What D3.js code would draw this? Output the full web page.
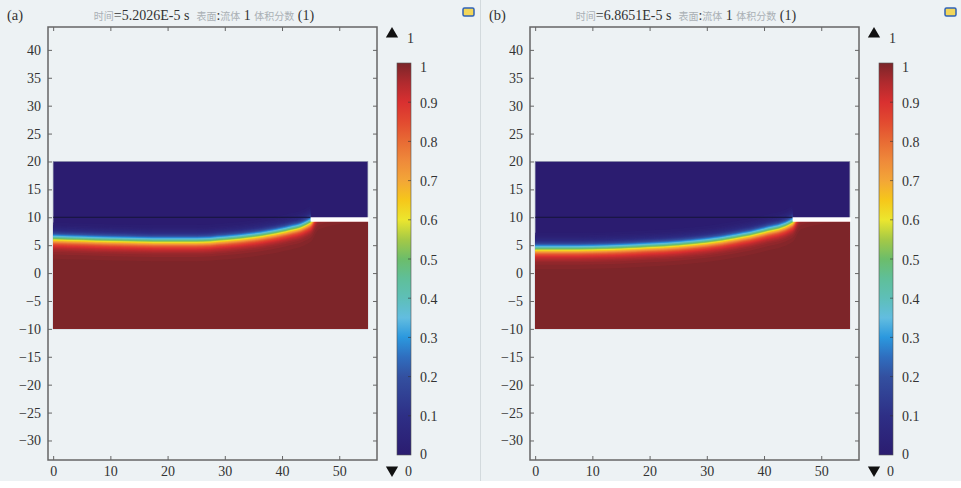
<!DOCTYPE html>
<html>
<head>
<meta charset="utf-8">
<script src="https://cdn.jsdelivr.net/npm/d3@7"></script>
<style>
  body { margin: 0; background: #fff; }
  svg { display: block; font-family: "Liberation Serif", "DejaVu Serif", serif; }
</style>
</head>
<body>
<div id="chart"></div>
<script>
// tick labels
const xTicks = [0, 10, 20, 30, 40, 50];
const yTicks = [-30, -25, -20, -15, -10, -5, 0, 5, 10, 15, 20, 25, 30, 35, 40];
const cbTicks = [0, 0.1, 0.2, 0.3, 0.4, 0.5, 0.6, 0.7, 0.8, 0.9, 1];

// panels
const panelLabels = ["(a)", "(b)"];
const panelTimes = ["5.2026E-5", "6.8651E-5"];

// interface (0.5 level)
const interfaceX = [0, 5, 10, 15, 20, 25, 30, 35, 40, 45];
const interfaceA = [6.2, 6.05, 5.9, 5.8, 5.75, 5.75, 6.05, 6.6, 7.5, 9.2];
const interfaceB = [4.35, 4.35, 4.4, 4.55, 4.8, 5.1, 5.6, 6.4, 7.5, 9.2];

// geometry of the model
const domainX = [0, 55], domainY = [-10, 20];
const plate = {x0: 45, x1: 55, y0: 9.2, y1: 10};

const W = 961, H = 488;
const svg = d3.select("#chart").append("svg").attr("width", W).attr("height", H);

svg.append("rect").attr("width", W).attr("height", 481).attr("fill", "#edf2f4");
svg.append("line").attr("x1", 480.5).attr("x2", 480.5).attr("y1", 0).attr("y2", 481)
  .attr("stroke", "#d3dadd");

// colormap (COMSOL rainbow)
const cmap = d3.scaleLinear()
  .domain([0, 0.1, 0.2, 0.25, 0.3, 0.35, 0.4, 0.45, 0.5, 0.55, 0.6, 0.65, 0.7, 0.75, 0.8, 0.85, 0.9, 0.95, 1])
  .range(["#2b1c70", "#2e2f86", "#3350a0", "#2f6ebf", "#2b98de", "#62bde0", "#5ebfb8", "#5fbf99",
          "#6cbd6a", "#a5c946", "#ece62e", "#f6c71a", "#f3a637", "#ef8a3a", "#e86b34", "#e24a30",
          "#d93030", "#b02a2e", "#7a2529"])
  .interpolate(d3.interpolateRgb);

const margin = {left: 48, right: 377, top: 27, bottom: 460};
const x = d3.scaleLinear().domain([-0.9, 56.6]).range([margin.left, margin.right]);
const y = d3.scaleLinear().domain([-33.5, 44.1]).range([margin.bottom, margin.top]);
const c = d3.scaleLinear().domain([0, 1]).range([455, 63]);

const eps = 1.25;
const levels = d3.range(1, 100).map(i => i / 100).concat([0.997]);

function drawPanel(k, ys) {
  const g = svg.append("g").attr("transform", `translate(${k * 482},0)`);

  // title
  const t = g.append("text").attr("x", 204).attr("y", 20).attr("text-anchor", "middle")
    .attr("font-size", 14).attr("fill", "#333");
  const zh = s => t.append("tspan").attr("font-family", "'Noto Sans CJK SC'").attr("font-size", 10)
    .attr("fill", "#aab0b4").text(s);
  zh("时间");
  t.append("tspan").text(`=${panelTimes[k]} s\u00a0\u00a0`);
  zh("表面");
  t.append("tspan").text(":");
  zh("流体");
  t.append("tspan").text(" 1 ");
  zh("体积分数");
  t.append("tspan").text(" (1)");
  g.append("text").attr("x", 7).attr("y", 20).attr("font-size", 14.5).attr("fill", "#333").text(panelLabels[k]);

  // small icon
  g.append("rect").attr("x", 463).attr("y", 8).attr("width", 11).attr("height", 8).attr("rx", 1.5)
    .attr("fill", "#f2d65a").attr("stroke", "#2f62b5").attr("stroke-width", 1.5);

  // field
  const clipId = "clip" + k;
  const clipPts = [[domainX[0], domainY[0]], [domainX[1], domainY[0]], [domainX[1], plate.y0],
                   [plate.x0, plate.y0], [plate.x0, domainY[1]], [domainX[0], domainY[1]]];
  g.append("clipPath").attr("id", clipId).append("polygon")
    .attr("points", clipPts.map(p => [x(p[0]), y(p[1])].join(",")).join(" "));

  g.append("rect")
    .attr("x", x(domainX[0])).attr("y", y(domainY[1]))
    .attr("width", x(domainX[1]) - x(domainX[0])).attr("height", y(domainY[0]) - y(domainY[1]))
    .attr("fill", cmap(0)).attr("stroke", "#8a8fa8").attr("stroke-width", 0.6);

  const pts = interfaceX.map((v, i) => [v, ys[i]]);
  pts.push([46.5, 11.5], [domainX[1], 13]);

  const field = g.append("g").attr("clip-path", `url(#${clipId})`);
  levels.forEach(p => {
    const off = eps * Math.atanh(1 - 2 * p);
    field.append("path")
      .datum(pts)
      .attr("fill", cmap(p))
      .attr("d", d3.area()
        .x(d => x(d[0]))
        .y0(y(domainY[0]))
        .y1(d => y(Math.min(d[1] + off, domainY[1])))
        .curve(d3.curveMonotoneX));
  });

  // internal boundary line and plate gap
  g.append("line")
    .attr("x1", x(domainX[0])).attr("x2", x(plate.x0))
    .attr("y1", y(plate.y1)).attr("y2", y(plate.y1))
    .attr("stroke", "#15143a").attr("stroke-width", 1);
  g.append("rect")
    .attr("x", x(plate.x0)).attr("y", y(plate.y1))
    .attr("width", x(plate.x1) - x(plate.x0) + 1).attr("height", y(plate.y0) - y(plate.y1))
    .attr("fill", "#ffffff");

  // axes
  const axisStyle = a => {
    a.select(".domain").remove();
    a.selectAll("line").attr("stroke", "#666");
    a.selectAll("text").attr("fill", "#333").attr("font-size", 14)
      .attr("font-family", "'Liberation Serif', serif");
  };
  g.append("g").attr("transform", `translate(${margin.left},0)`)
    .call(d3.axisLeft(y).tickValues(yTicks).tickSize(-4).tickPadding(7)).call(axisStyle);
  g.append("g").attr("transform", `translate(${margin.right},0)`)
    .call(d3.axisRight(y).tickValues(yTicks).tickSize(-4).tickFormat("")).call(axisStyle);
  g.append("g").attr("transform", `translate(0,${margin.bottom})`)
    .call(d3.axisBottom(x).tickValues(xTicks).tickSize(-4).tickPadding(6)).call(axisStyle);
  g.append("g").attr("transform", `translate(0,${margin.top})`)
    .call(d3.axisTop(x).tickValues(xTicks).tickSize(-4).tickFormat("")).call(axisStyle);

  g.append("rect")
    .attr("x", margin.left).attr("y", margin.top)
    .attr("width", margin.right - margin.left).attr("height", margin.bottom - margin.top)
    .attr("fill", "none").attr("stroke", "#666").attr("stroke-width", 1.5);

  // colorbar
  const gradId = "grad" + k;
  const grad = g.append("defs").append("linearGradient").attr("id", gradId)
    .attr("x1", 0).attr("x2", 0).attr("y1", 1).attr("y2", 0);
  cmap.domain().forEach(v => grad.append("stop").attr("offset", v).attr("stop-color", cmap(v)));

  const bx = 397, bw = 14;
  g.append("rect").attr("x", bx).attr("y", c(1)).attr("width", bw).attr("height", c(0) - c(1))
    .attr("fill", `url(#${gradId})`).attr("stroke", "#555").attr("stroke-width", 0.6);
  g.selectAll(".cbtick").data(cbTicks.slice(1, -1)).join("line")
    .attr("x1", bx + bw - 3).attr("x2", bx + bw)
    .attr("y1", d => c(d)).attr("y2", d => c(d))
    .attr("stroke", "#333").attr("stroke-opacity", 0.6);
  g.selectAll(".cblabel").data(cbTicks).join("text")
    .attr("x", 420)
    .attr("y", d => c(d) + (d === 1 ? 4 : d === 0 ? -1 : 1))
    .attr("dominant-baseline", "central")
    .attr("font-size", 14).attr("fill", "#333")
    .text(d => d3.format("")(d));

  // min / max markers
  g.append("path").attr("d", d3.symbol(d3.symbolTriangle, 65)())
    .attr("transform", "translate(392,34)").attr("fill", "#111");
  g.append("text").attr("x", 407).attr("y", 38).attr("dominant-baseline", "central")
    .attr("font-size", 14).attr("fill", "#333").text("1");
  g.append("path").attr("d", d3.symbol(d3.symbolTriangle, 65)())
    .attr("transform", "translate(392,470) rotate(180)").attr("fill", "#111");
  g.append("text").attr("x", 405).attr("y", 471).attr("dominant-baseline", "central")
    .attr("font-size", 14).attr("fill", "#333").text("0");
}

drawPanel(0, interfaceA);
drawPanel(1, interfaceB);
</script>
</body>
</html>
